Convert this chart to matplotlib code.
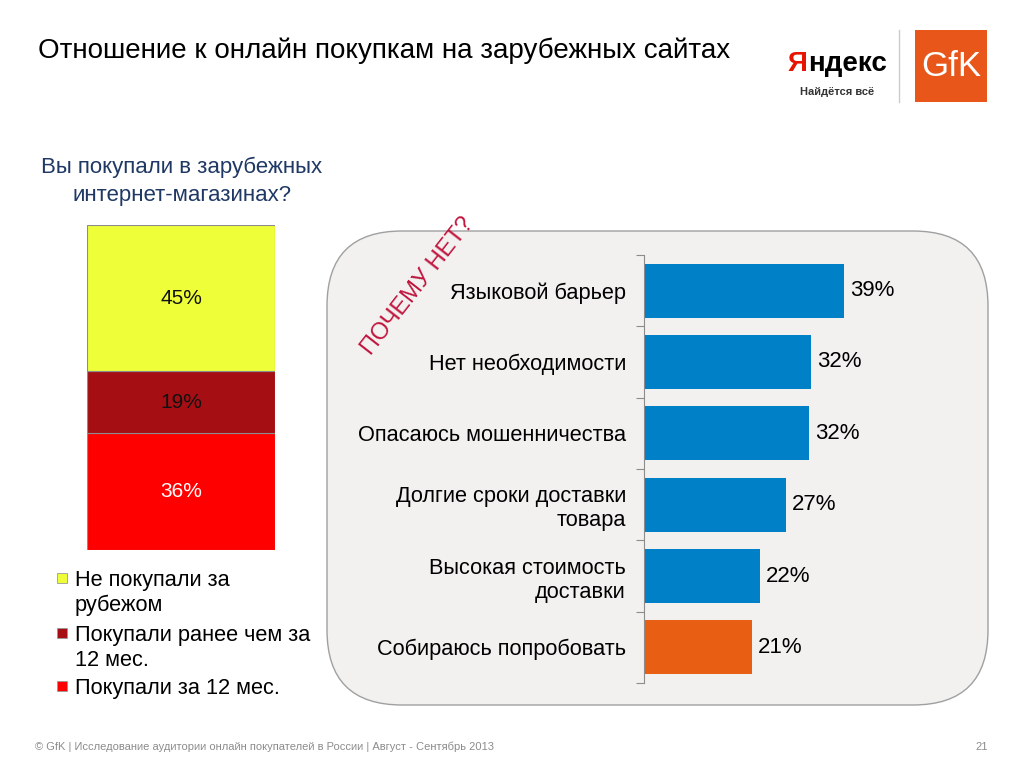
import matplotlib.pyplot as plt
from matplotlib.patches import FancyBboxPatch, Rectangle

plt.rcParams['font.family'] = ['Liberation Sans', 'DejaVu Sans']

# left stacked bar (bottom -> top)
share_labels = ['Покупали за 12 мес.', 'Покупали ранее чем за\n12 мес.', 'Не покупали за\nрубежом']
share_values = [36, 19, 45]
share_colors = ['#FF0000', '#A50F14', '#EEFF3A']
share_text_colors = ['white', '#111111', '#111111']

# reasons (top -> bottom)
reasons = ['Языковой барьер', 'Нет необходимости', 'Опасаюсь мошенничества',
           'Долгие сроки доставки\nтовара', 'Высокая стоимость\nдоставки',
           'Собираюсь попробовать']
reason_values = [39.0, 32.5, 32.1, 27.6, 22.6, 21.0]
reason_labels = ['39%', '32%', '32%', '27%', '22%', '21%']
reason_colors = ['#0080C6'] * 5 + ['#E85E12']

W, H = 1024, 768
fig = plt.figure(figsize=(W / 100, H / 100), dpi=100)

def px_axes(x0, y0, x1, y1, **kw):
    return fig.add_axes([x0 / W, 1 - y1 / H, (x1 - x0) / W, (y1 - y0) / H], **kw)

# background layer in pixel coordinates
bg = px_axes(0, 0, W, H)
bg.set_xlim(0, W)
bg.set_ylim(H, 0)
bg.axis('off')

bg.text(38, 51, 'Отношение к онлайн покупкам на зарубежных сайтах',
        fontsize=20, va='center', ha='left', color='black')
bg.text(182, 181, 'Вы покупали в зарубежных\nинтернет-магазинах?', fontsize=16,
        ha='center', va='center', color='#1F3864', linespacing=1.45)

# rounded panel
bg.add_patch(FancyBboxPatch((327 + 75, 231 + 75), 661 - 150, 474 - 150,
                            boxstyle='round,pad=75', fc='#F2F1F0', ec='#A0A0A0', lw=1))
bg.text(418, 286, 'ПОЧЕМУ НЕТ?', rotation=52, fontsize=17, color='#C0143C',
        ha='center', va='center', rotation_mode='anchor')

# legend
leg_y = [686, 633, 578]
for lab, col, y in zip(share_labels, share_colors, leg_y):
    bg.add_patch(Rectangle((57, y - 5), 10, 10, fc=col, ec='#999999', lw=0.6))
    for k, line in enumerate(lab.split('\n')):
        bg.text(75, y + 8 + 25 * k, line, fontsize=15.7, va='baseline', ha='left')

# footer
bg.text(35, 747, '© GfK | Исследование аудитории онлайн покупателей в России | Август - Сентябрь 2013',
        fontsize=8, color='#8C8C8C', va='center', ha='left')
bg.text(988, 747, '21', fontsize=8, color='#8C8C8C', va='center', ha='right')

# logos
bg.text(807, 64, 'Я', fontsize=20, fontweight='bold', color='#E61400', ha='right', va='center')
bg.text(808, 64, 'ндекс', fontsize=20, fontweight='bold', color='black', ha='left', va='center')
bg.text(837, 92, 'Найдётся всё', fontsize=8, fontweight='bold', color='#333333',
        ha='center', va='center')
bg.plot([899, 899], [30, 102], color='#CCCCCC', lw=1)
bg.add_patch(Rectangle((915, 30), 72, 72, fc='#E8561A', ec='none'))
bg.text(951, 67, 'GfK', fontsize=25, color='white', ha='center', va='center')

# stacked bar
ax1 = px_axes(87, 225, 275, 550)
bottom = 0
for v, c, tc in zip(share_values, share_colors, share_text_colors):
    ax1.bar(0, v, bottom=bottom, width=1, color=c, edgecolor='#8C8C8C', lw=0.8)
    ax1.text(0, bottom + v / 2, f'{v}%', ha='center', va='center', fontsize=15, color=tc)
    bottom += v
ax1.set_xlim(-0.5, 0.5)
ax1.set_ylim(0, 100)
ax1.axis('off')

# horizontal bars
px_per_unit = 5.13
ax2 = px_axes(644, 255, 960, 683)
ax2.patch.set_alpha(0)
n = len(reasons)
ax2.barh(range(n), reason_values, height=0.76, color=reason_colors)
for i, (v, lab) in enumerate(zip(reason_values, reason_labels)):
    ax2.text(v + 1.2, i, lab, va='center', ha='left', fontsize=16)
ax2.set_xlim(0, 316 / px_per_unit)
ax2.set_ylim(n - 0.5, -0.5)
ax2.set_yticks([i - 0.5 for i in range(n + 1)])
ax2.set_yticklabels([])
ax2.tick_params(axis='y', which='major', length=6, color='#8C8C8C', direction='out')
ax2.set_yticks(range(n), minor=True)
ax2.set_yticklabels(reasons, minor=True, fontsize=15.7)
ax2.tick_params(axis='y', which='minor', length=0, pad=13)
ax2.set_xticks([])
for s in ['top', 'right', 'bottom']:
    ax2.spines[s].set_visible(False)
ax2.spines['left'].set_color('#8C8C8C')

fig.savefig('out.png', dpi=100)
